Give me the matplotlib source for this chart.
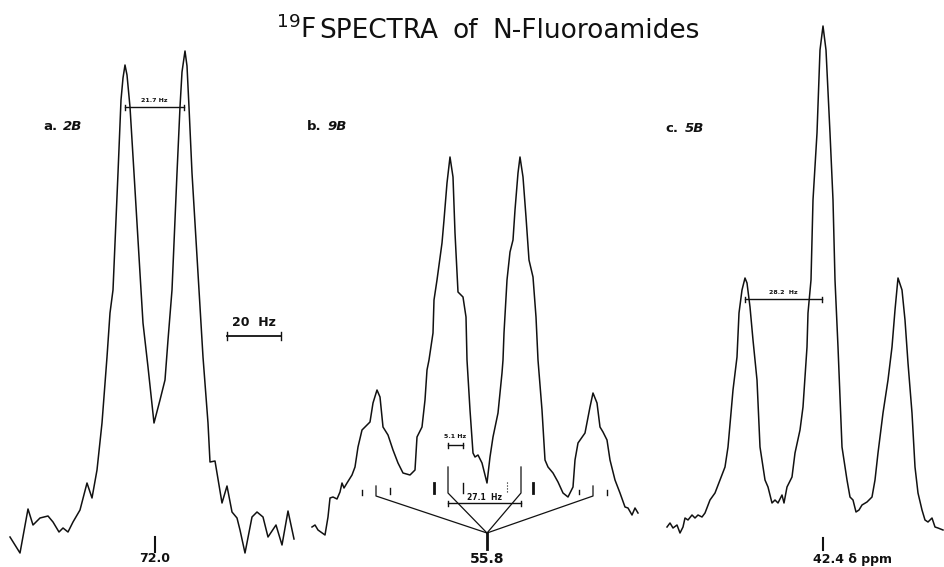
import matplotlib
matplotlib.use("Agg")
import matplotlib.pyplot as plt

# ---------------- data (chart frame: x to the right, y downward) ----------------
# panel a : compound 2B, doublet
spec_a_x = [10, 20, 28, 33, 40, 48, 53, 59, 63, 68, 73, 80, 87, 92, 97, 102, 107, 110,
            113, 118, 121, 123, 125, 127, 130, 134, 141, 143, 148, 154, 160, 165, 168,
            172, 177, 180, 182, 185, 187, 189, 192, 199, 203, 208, 210, 215, 222, 227,
            232, 237, 240, 245, 252, 257, 263, 268, 276, 282, 288, 294]
spec_a_y = [537, 553, 509, 525, 518, 516, 522, 532, 528, 532, 522, 510, 483, 498, 470, 423,
            357, 313, 290, 173, 100, 78, 65, 75, 107, 173, 290, 323, 367, 423, 400, 380,
            340, 290, 173, 107, 72, 51, 66, 107, 173, 290, 357, 423, 462, 461, 503, 486,
            512, 518, 530, 553, 517, 512, 517, 537, 525, 545, 511, 539]

# panel b : compound 9B, doublet of triplets
spec_b_x = [312, 315, 318, 325, 328, 330, 333, 337, 340, 342, 344, 347, 352, 355, 358, 362,
            367, 370, 373, 377, 380, 383, 388, 393, 398, 403, 410, 415, 417, 422, 425, 427,
            429, 433, 434, 437, 442, 444, 447, 450, 453, 455, 458, 463, 466, 467, 470, 473,
            475, 478, 482, 487, 490, 493, 498, 502, 503, 504, 507, 510, 513, 515, 518, 520,
            523, 526, 529, 533, 536, 538, 542, 545, 548, 553, 558, 563, 568, 573, 575, 578,
            585, 590, 593, 597, 600, 603, 607, 610, 615, 620, 625, 628, 632, 635, 638]
spec_b_y = [527, 525, 530, 535, 517, 498, 497, 499, 492, 483, 488, 483, 475, 467, 447, 430,
            425, 422, 403, 390, 397, 427, 435, 450, 463, 473, 475, 470, 437, 427, 400, 370,
            360, 333, 300, 280, 243, 220, 183, 157, 177, 233, 292, 297, 317, 360, 410, 453,
            457, 455, 463, 483, 457, 437, 413, 373, 360, 333, 280, 252, 240, 210, 173, 157,
            177, 217, 260, 277, 317, 360, 410, 460, 467, 473, 482, 493, 497, 487, 460, 443,
            433, 407, 393, 403, 427, 432, 440, 460, 480, 493, 507, 508, 515, 508, 513]

# panel c : compound 5B, triplet
spec_c_x = [667, 670, 673, 677, 680, 683, 685, 688, 692, 695, 698, 702, 705, 710, 715, 720,
            725, 728, 731, 733, 737, 739, 742, 745, 747, 750, 753, 757, 760, 765, 768, 772,
            775, 778, 782, 784, 787, 792, 795, 800, 803, 807, 808, 811, 813, 817, 820, 823,
            826, 830, 833, 835, 838, 842, 847, 850, 853, 856, 859, 862, 867, 872, 875, 878,
            883, 888, 892, 895, 898, 902, 905, 908, 912, 915, 918, 922, 925, 928, 932, 935,
            938, 943]
spec_c_y = [527, 523, 528, 525, 533, 527, 518, 520, 515, 518, 515, 517, 513, 500, 493, 480,
            467, 447, 413, 390, 357, 313, 290, 278, 283, 307, 340, 380, 447, 480, 487, 503,
            500, 503, 495, 503, 487, 477, 453, 430, 407, 347, 313, 280, 200, 133, 50, 26,
            50, 133, 200, 280, 347, 447, 480, 497, 500, 512, 510, 505, 502, 497, 480, 453,
            413, 380, 347, 310, 278, 290, 320, 363, 413, 467, 493, 510, 520, 522, 518, 527,
            528, 530]

# stick diagram of panel b
stick_x = [362, 390, 434, 463, 507, 533, 579, 607]
stick_top = [490, 488, 483, 483, 482, 483, 490, 490]
stick_bot = [495, 494, 493, 493, 493, 493, 494, 495]
stick_w = [1.0, 1.0, 2.0, 1.0, 0.8, 2.0, 1.0, 1.0]
fan_x = [376, 448, 521, 593]
fan_top = [486, 467, 467, 486]
fan_bot = [496, 493, 493, 496]
fan_center = (487, 533)

# coupling bars: (x0, x1, y, label, label_y, fontsize)
bars = [(125, 184, 107, "21.7 Hz", 100, 4.5),
        (227, 281, 336, "20  Hz", 323, 9),
        (448, 463, 445, "5.1 Hz", 436, 4.5),
        (448, 521, 503, "27.1  Hz", 497, 5.5),
        (745, 822, 299, "28.2  Hz", 292, 4.5)]

panel_labels = [("a.", "2B", 43, 127), ("b.", "9B", 307, 127), ("c.", "5B", 665, 128)]
shift_labels = [("72.0", 155, 537, 552, 559), ("55.8", 487, 533, 550, 559),
                ("42.4 δ ppm", 823, 538, 550, 559)]

title_words = [("$^{\\mathregular{19}}$F", 276), ("SPECTRA", 319), ("of", 452),
               ("N-Fluoroamides", 492)]

# ---------------- drawing ----------------
W, H = 945, 567
fig = plt.figure(figsize=(W / 100, H / 100), dpi=100)
ax = fig.add_axes([0, 0, 1, 1])
ax.set_xlim(0, W)
ax.set_ylim(H, 0)
ax.axis("off")
ink = "#111111"
lw = 1.1

for xs, ys in [(spec_a_x, spec_a_y), (spec_b_x, spec_b_y), (spec_c_x, spec_c_y)]:
    ax.plot(xs, ys, color=ink, lw=lw, solid_joinstyle="round")

for x, t, b, w in zip(stick_x, stick_top, stick_bot, stick_w):
    ax.plot([x, x], [t, b], color=ink, lw=w, ls=":" if w < 1 else "-")
cx, cy = fan_center
for x, t, b in zip(fan_x, fan_top, fan_bot):
    ax.plot([x, x, cx], [t, b, cy], color=ink, lw=0.9)
ax.plot([cx, cx], [cy, 549], color=ink, lw=2.0)

for x0, x1, y, lab, ly, fs in bars:
    tick = 4 if fs > 6 else 2.5
    ax.plot([x0, x1], [y, y], color=ink, lw=1.0 if fs < 6 else 1.3)
    ax.plot([x0, x0], [y - tick, y + tick], color=ink, lw=1.0)
    ax.plot([x1, x1], [y - tick, y + tick], color=ink, lw=1.0)
    ax.text((x0 + x1) / 2, ly, lab, ha="center", va="center", fontsize=fs,
            fontweight="bold", color=ink, family="DejaVu Sans")

for pre, name, x, y in panel_labels:
    ax.text(x, y, pre, ha="left", va="center", fontsize=9.5, fontweight="bold",
            color=ink, family="DejaVu Sans")
    ax.text(x + 20, y, name, ha="left", va="center", fontsize=9.5, fontweight="bold",
            style="italic", color=ink, family="DejaVu Sans")

for lab, x, t, b, ly in shift_labels:
    if lab != "55.8":
        ax.plot([x, x], [t, b], color=ink, lw=1.5)
    if lab.startswith("42"):
        ax.text(x - 10, ly, lab, ha="left", va="center", fontsize=9, fontweight="bold",
                color=ink, family="DejaVu Sans")
    else:
        ax.text(x, ly, lab, ha="center", va="center",
                fontsize=10 if lab == "55.8" else 9, fontweight="bold",
                color=ink, family="DejaVu Sans")

# title
for word, x in title_words:
    ax.text(x, 38, word, ha="left", va="baseline", fontsize=19, color=ink,
            family="DejaVu Sans")

fig.savefig("out.png", dpi=100, facecolor="white")
